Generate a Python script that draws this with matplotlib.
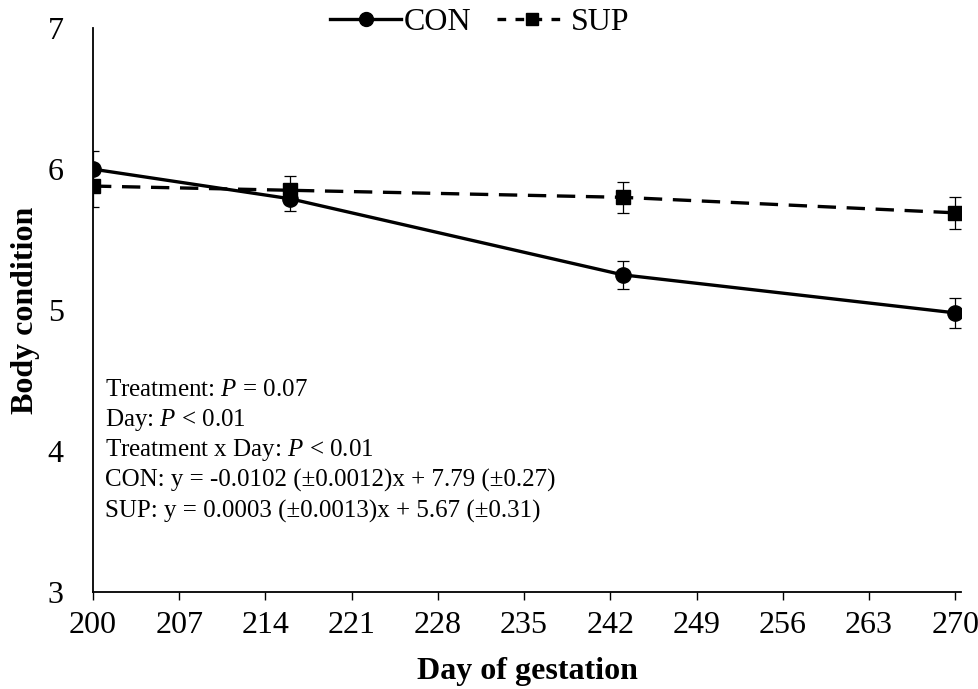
import matplotlib
matplotlib.use('Agg')
import matplotlib.pyplot as plt
from matplotlib.lines import Line2D

days = [200, 216, 243, 270]
con_mean = [6.00, 5.79, 5.25, 4.98]
con_se = [0.13, 0.09, 0.10, 0.105]
sup_mean = [5.88, 5.85, 5.80, 5.69]
sup_se = [0.15, 0.10, 0.11, 0.115]
xticks = list(range(200, 271, 7))
yticks = [3, 4, 5, 6, 7]

notes = [
    'Treatment: $P$ = 0.07',
    'Day: $P$ < 0.01',
    'Treatment x Day: $P$ < 0.01',
    'CON: y = -0.0102 (\u00b10.0012)x + 7.79 (\u00b10.27)',
    'SUP: y = 0.0003 (\u00b10.0013)x + 5.67 (\u00b10.31)',
]

plt.rcParams['font.family'] = 'Liberation Serif'
plt.rcParams['mathtext.fontset'] = 'custom'
plt.rcParams['mathtext.rm'] = 'Liberation Serif'
plt.rcParams['mathtext.it'] = 'Liberation Serif:italic'

fig = plt.figure(figsize=(9.79, 6.89), dpi=100)
ax = fig.add_axes([0.095, 0.141, 0.887, 0.818])

dash = (0, (5.5, 3.2))
ax.errorbar(days, con_mean, yerr=con_se, color='black', lw=2.4, ls='-',
            marker='o', ms=11, capsize=4.5, elinewidth=0.9, capthick=0.9, zorder=3)
ax.errorbar(days, sup_mean, yerr=sup_se, color='black', lw=2.4, ls=dash,
            marker='s', ms=10, capsize=4.5, elinewidth=0.9, capthick=0.9, zorder=3)

ax.set_xlim(200, 270.5)
ax.set_ylim(3, 7)
ax.set_xticks(xticks)
ax.set_yticks(yticks)
ax.tick_params(axis='x', direction='out', length=6, width=1, labelsize=23, pad=8)
ax.tick_params(axis='y', length=0, labelsize=23, pad=21)
for s in ['top', 'right']:
    ax.spines[s].set_visible(False)
for s in ['left', 'bottom']:
    ax.spines[s].set_linewidth(1.3)

ax.set_xlabel('Day of gestation', fontsize=23, fontweight='bold', labelpad=12)
ax.set_ylabel('Body condition', fontsize=23, fontweight='bold', labelpad=6)

ys = [4.43, 4.22, 4.01, 3.79, 3.57]
for t, y in zip(notes, ys):
    ax.text(201.0, y, t, fontsize=18, va='center', ha='left')

handles = [
    Line2D([], [], color='black', lw=2.4, ls='-', marker='o', ms=10),
    Line2D([], [], color='black', lw=2.4, ls=(0, (2.6, 2.8)), marker='s', ms=9),
]
fig.legend(handles, ['CON', 'SUP'], loc='upper center', bbox_to_anchor=(0.49, 1.03),
           ncol=2, frameon=False, fontsize=23, handlelength=2.2,
           handletextpad=0.1, columnspacing=0.8)

fig.savefig('out.png', dpi=100)
